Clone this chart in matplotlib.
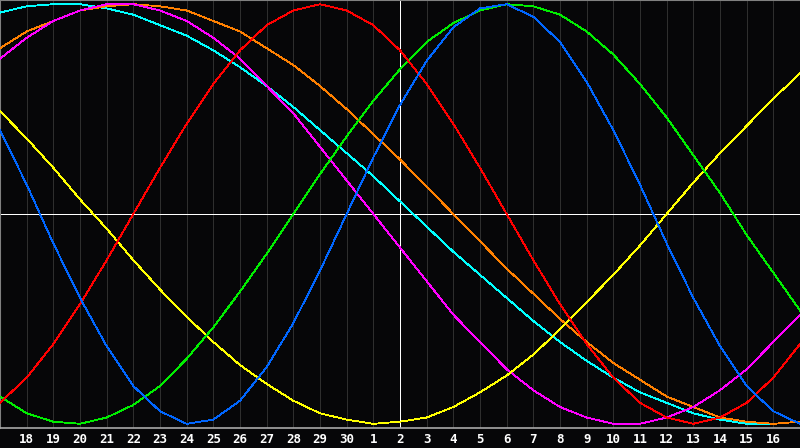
import matplotlib
matplotlib.use("Agg")
import matplotlib.pyplot as plt

# Tage (17. bis 17. naechsten Monats), heute = 2.
days = [17, 18, 19, 20, 21, 22, 23, 24, 25, 26, 27, 28, 29, 30,
        1, 2, 3, 4, 5, 6, 7, 8, 9, 10, 11, 12, 13, 14, 15, 16, 17]
today = 2

physical = [40, 14, -14, -40, -63, -82, -94, -100, -98, -89, -73, -52, -27, 0, 27, 52,
            73, 89, 98, 100, 94, 82, 63, 40, 14, -14, -40, -63, -82, -94, -100]
emotional = [-90, -78, -62, -43, -22, 0, 22, 43, 62, 78, 90, 97, 100, 97, 90, 78,
             62, 43, 22, 0, -22, -43, -62, -78, -90, -97, -100, -97, -90, -78, -62]
intellectual = [-87, -95, -99, -100, -97, -91, -82, -69, -54, -37, -19, 0, 19, 37, 54, 69,
                82, 91, 97, 100, 99, 95, 87, 76, 62, 46, 28, 10, -10, -28, -46]
intuitive = [74, 84, 92, 97, 100, 100, 97, 92, 84, 74, 61, 48, 32, 16, 0, -16,
             -32, -48, -61, -74, -84, -92, -97, -100, -100, -97, -92, -84, -74, -61, -48]
aesthetic = [49, 36, 22, 7, -7, -22, -36, -49, -61, -72, -81, -89, -95, -98, -100, -99,
             -97, -92, -85, -77, -67, -55, -42, -29, -15, 0, 15, 29, 42, 55, 67]
awareness = [79, 87, 92, 97, 99, 100, 99, 97, 92, 87, 79, 71, 61, 50, 38, 26,
             13, 0, -13, -26, -38, -50, -61, -71, -79, -87, -92, -97, -99, -100, -99]
spiritual = [96, 99, 100, 100, 98, 95, 90, 85, 78, 70, 61, 51, 40, 29, 18, 6,
             -6, -18, -29, -40, -51, -61, -70, -78, -85, -90, -95, -98, -100, -100, -99]

bg = "#060608"
px = 0.6
fig = plt.figure(figsize=(8, 4.48), dpi=100, facecolor=bg)
ax = fig.add_axes([0, 20 / 448, 1, 428 / 448])
ax.set_facecolor(bg)

x = list(range(len(days)))
for i in x[1:-1]:
    ax.axvline(i, color="#2e2e2e", lw=px, antialiased=False, zorder=1)

ax.axhline(0, color="white", lw=px, antialiased=False, zorder=2)
ax.axvline(days.index(today, 1), color="white", lw=px, antialiased=False, zorder=2)

kurven = [
    (spiritual, "#00ffff"),
    (awareness, "#ff8000"),
    (intuitive, "#ff00ff"),
    (aesthetic, "#ffff00"),
    (intellectual, "#00ee00"),
    (emotional, "#ff0000"),
    (physical, "#0066ff"),
]
for werte, farbe in kurven:
    ax.plot(x, werte, color=farbe, lw=px, antialiased=False, zorder=3)

ax.set_xlim(0, 30)
ax.set_ylim(-102, 102)

for s in ["top", "left"]:
    ax.spines[s].set_color("#808080")
    ax.spines[s].set_linewidth(1.5)
ax.spines["bottom"].set_color("#a8a8a8")
ax.spines["bottom"].set_linewidth(1.2)
ax.spines["right"].set_visible(False)

ax.set_xticks(x[1:-1])
ax.set_xticklabels([str(d) for d in days[1:-1]], fontfamily="DejaVu Sans Mono",
                   fontweight="bold", fontsize=9, color="white")
ax.tick_params(axis="x", length=0, pad=3.5)
ax.set_yticks([])

fig.savefig("out.png", dpi=100, facecolor=bg)
